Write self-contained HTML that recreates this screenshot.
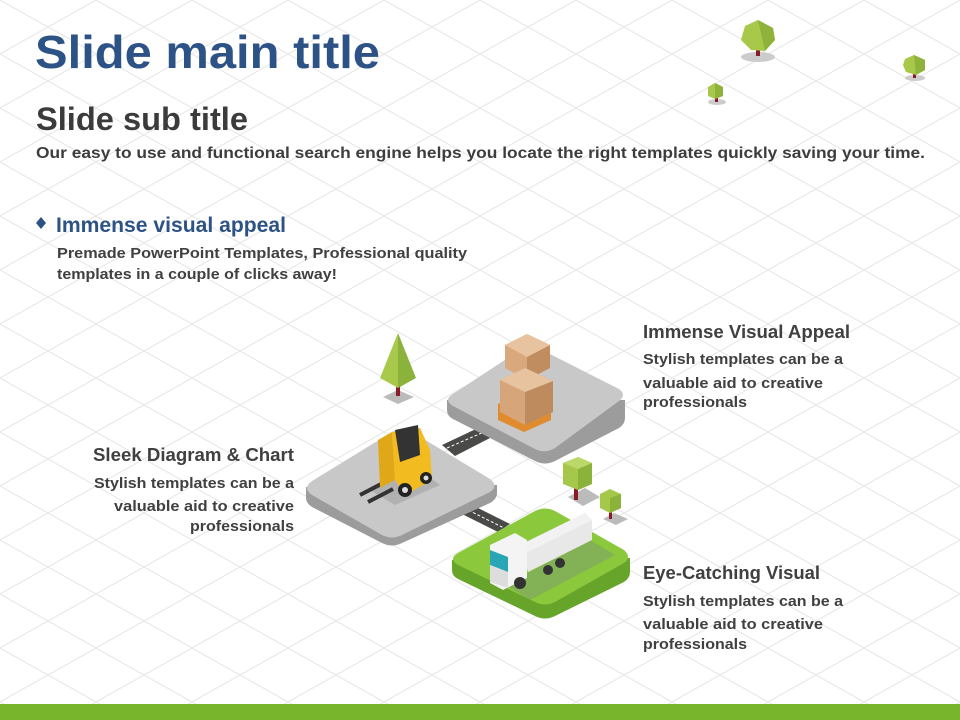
<!DOCTYPE html>
<html><head><meta charset="utf-8"><style>
html,body{margin:0;padding:0;background:#fff}
svg{display:block}
text{font-family:"Liberation Sans",sans-serif;font-weight:bold}
</style></head><body>
<svg width="960" height="720" viewBox="0 0 960 720" xmlns="http://www.w3.org/2000/svg">
<defs>
<pattern id="g" width="96" height="54" patternUnits="userSpaceOnUse">
<path d="M0 0L96 54M96 0L0 54M-48 27L48 81M48 -27L144 27M48 -27L-48 27M144 27L48 81" stroke="#e6e6e6" stroke-width="1" fill="none"/>
</pattern>
</defs>
<rect width="960" height="720" fill="#fff"/>
<rect width="960" height="704" fill="url(#g)"/>
<rect y="704" width="960" height="16" fill="#79b52c"/>

<text x="35" y="68" font-size="46" fill="#2c5286" textLength="345" lengthAdjust="spacingAndGlyphs">Slide main title</text>
<text x="36" y="130" font-size="32" fill="#3b3b3b" textLength="212" lengthAdjust="spacingAndGlyphs">Slide sub title</text>
<text x="36" y="158" font-size="16" fill="#3d3d3d" textLength="889" lengthAdjust="spacingAndGlyphs">Our easy to use and functional search engine helps you locate the right templates quickly  saving your time.</text>

<path d="M41 217L46 223L41 229L36 223Z" fill="#2c5286"/>
<text x="56" y="232" font-size="21" fill="#2c5286" textLength="230" lengthAdjust="spacingAndGlyphs">Immense visual appeal</text>
<text x="57" y="258" font-size="15" fill="#404040" textLength="410" lengthAdjust="spacingAndGlyphs">Premade PowerPoint Templates, Professional quality</text>
<text x="57" y="279" font-size="15" fill="#404040" textLength="280" lengthAdjust="spacingAndGlyphs">templates in a couple of clicks away!</text>

<text x="643" y="338" font-size="18" fill="#404040" textLength="207" lengthAdjust="spacingAndGlyphs">Immense Visual Appeal</text>
<text x="643" y="364" font-size="15" fill="#404040" textLength="200" lengthAdjust="spacingAndGlyphs">Stylish templates can be a</text>
<text x="643" y="388" font-size="15" fill="#404040" textLength="180" lengthAdjust="spacingAndGlyphs">valuable aid to creative</text>
<text x="643" y="407" font-size="15" fill="#404040" textLength="104" lengthAdjust="spacingAndGlyphs">professionals</text>

<text x="93" y="461" font-size="18" fill="#404040" textLength="201" lengthAdjust="spacingAndGlyphs">Sleek Diagram &amp; Chart</text>
<text x="94" y="488" font-size="15" fill="#404040" textLength="200" lengthAdjust="spacingAndGlyphs">Stylish templates can be a</text>
<text x="114" y="511" font-size="15" fill="#404040" textLength="180" lengthAdjust="spacingAndGlyphs">valuable aid to creative</text>
<text x="190" y="531" font-size="15" fill="#404040" textLength="104" lengthAdjust="spacingAndGlyphs">professionals</text>

<text x="643" y="579" font-size="18" fill="#404040" textLength="177" lengthAdjust="spacingAndGlyphs">Eye-Catching Visual</text>
<text x="643" y="606" font-size="15" fill="#404040" textLength="200" lengthAdjust="spacingAndGlyphs">Stylish templates can be a</text>
<text x="643" y="629" font-size="15" fill="#404040" textLength="180" lengthAdjust="spacingAndGlyphs">valuable aid to creative</text>
<text x="643" y="649" font-size="15" fill="#404040" textLength="104" lengthAdjust="spacingAndGlyphs">professionals</text>

<!-- top-right trees -->
<ellipse cx="758" cy="57" rx="17" ry="5" fill="#ccc"/>
<rect x="756" y="46" width="4" height="10" fill="#8a1c2a"/>
<path d="M745 26L758 20L773 28L775 40L765 51L751 50L741 40Z" fill="#a8c84a"/>
<path d="M758 20L773 28L775 40L765 51Z" fill="#8fb23a"/>
<ellipse cx="915" cy="78" rx="10" ry="3" fill="#ccc"/>
<rect x="913" y="70" width="3" height="8" fill="#8a1c2a"/>
<path d="M905 59L914 55L925 60L925 70L916 75L906 72L903 65Z" fill="#a8c84a"/>
<path d="M914 55L925 60L925 70L916 75Z" fill="#8fb23a"/>
<ellipse cx="717" cy="102" rx="9" ry="3" fill="#ccc"/>
<rect x="715" y="95" width="3" height="7" fill="#8a1c2a"/>
<path d="M708 87L715 83L723 87L723 96L715 99L708 96Z" fill="#a8c84a"/>
<path d="M715 83L723 87L723 96L715 99Z" fill="#8fb23a"/>

<!-- roads -->
<path d="M442 445L478 428L490 438L455 456Z" fill="#4a4a48"/>
<path d="M447 448L484 432" stroke="#fff" stroke-width="1" stroke-dasharray="3 2"/>
<path d="M458 512L470 504L510 524L498 532Z" fill="#4a4a48"/>
<path d="M464 508L504 528" stroke="#fff" stroke-width="1" stroke-dasharray="3 2"/>

<!-- upper right platform -->
<path d="M447 400L447 410Q447 416 453 419L535 461Q545 466 555 461L619 428Q625 424 625 418L625 400Z" fill="#9c9c9c"/>
<path d="M453 394L520 350Q530 344 540 349L619 389Q627 395 619 401L555 448Q545 454 535 449L453 406Q443 400 453 394Z" fill="#c8c8c8"/>
<!-- left platform -->
<path d="M306 487L306 498Q306 503 312 507L382 543Q392 548 402 543L490 503Q497 499 497 493L497 485Z" fill="#9c9c9c"/>
<path d="M312 481L392 432Q402 427 412 432L490 479Q499 486 490 492L402 535Q392 540 382 535L312 495Q302 488 312 481Z" fill="#c8c8c8"/>
<!-- green platform -->
<path d="M452 560L452 570Q452 576 458 579L535 616Q545 621 555 616L624 582Q630 578 630 572L630 558Z" fill="#66a42a"/>
<path d="M458 553L535 511Q545 506 555 511L624 550Q632 557 624 563L555 602Q545 607 535 602L458 565Q448 559 458 553Z" fill="#8cc83c"/>

<!-- cone tree -->
<path d="M383 397L398 390L414 397L398 404Z" fill="#bbb"/>
<rect x="396" y="378" width="4" height="18" fill="#8a1c2a"/>
<path d="M398 333L380 378L398 388Z" fill="#a9c94c"/>
<path d="M398 333L416 378L398 388Z" fill="#8bb23a"/>

<!-- boxes -->
<path d="M505 345L527 334L550 345L550 368L527 380L505 368Z" fill="#d9a87c"/>
<path d="M527 357L550 345L550 368L527 380Z" fill="#c08d60"/>
<path d="M505 345L527 334L550 345L527 357Z" fill="#e8c3a0"/>
<path d="M498 404L522 392L551 404L551 420L524 432L498 420Z" fill="#e08b2e"/>
<path d="M500 380L525 368L553 381L553 412L525 425L500 412Z" fill="#d6a57a"/>
<path d="M525 392L553 381L553 412L525 425Z" fill="#be8b5e"/>
<path d="M500 380L525 368L553 381L525 392Z" fill="#e8c3a0"/>

<!-- forklift -->
<path d="M370 490L420 470L440 485L395 505Z" fill="#999" opacity="0.5"/>
<path d="M360 495L385 482M368 502L393 489" stroke="#333" stroke-width="4"/>
<path d="M378 440L392 432L395 480L380 488Z" fill="#e0a818"/>
<path d="M392 432L420 428L430 450L432 480L405 495L395 480Z" fill="#f2bb20"/>
<path d="M395 430L418 425L420 455L400 462Z" fill="#333"/>
<circle cx="405" cy="490" r="7" fill="#222"/><circle cx="405" cy="490" r="3" fill="#ddd"/>
<circle cx="426" cy="478" r="6" fill="#222"/><circle cx="426" cy="478" r="2.5" fill="#ddd"/>

<!-- truck -->
<path d="M505 585L590 540L615 555L530 600Z" fill="#7a9a70" opacity="0.5"/>
<path d="M520 545L585 513L592 520L592 540L528 572Z" fill="#e8e8e8"/>
<path d="M520 545L585 513L592 520L528 552Z" fill="#f2f2f2"/>
<path d="M490 545L515 533L527 540L527 578L503 590L490 583Z" fill="#f4f4f4"/>
<path d="M490 550L508 557L508 572L490 565Z" fill="#2aa5b5"/>
<path d="M490 565L508 572L508 588L490 582Z" fill="#ddd"/>
<circle cx="520" cy="583" r="6" fill="#333"/><circle cx="548" cy="570" r="5" fill="#333"/><circle cx="560" cy="563" r="5" fill="#333"/>

<!-- box trees -->
<path d="M568 497L585 488L600 497L583 506Z" fill="#bbb"/>
<rect x="574" y="486" width="4" height="14" fill="#8a1c2a"/>
<path d="M563 463L578 457L592 463L592 484L578 490L563 484Z" fill="#a5c84a"/>
<path d="M578 469L592 463L592 484L578 490Z" fill="#8bb23a"/>
<path d="M563 463L578 457L592 463L578 469Z" fill="#bcd86a"/>
<path d="M603 519L614 513L628 519L616 525Z" fill="#bbb"/>
<rect x="609" y="508" width="3" height="11" fill="#8a1c2a"/>
<path d="M600 494L610 489L621 494L621 508L610 513L600 508Z" fill="#a5c84a"/>
<path d="M610 498L621 494L621 508L610 513Z" fill="#8bb23a"/>
</svg>
</body></html>
